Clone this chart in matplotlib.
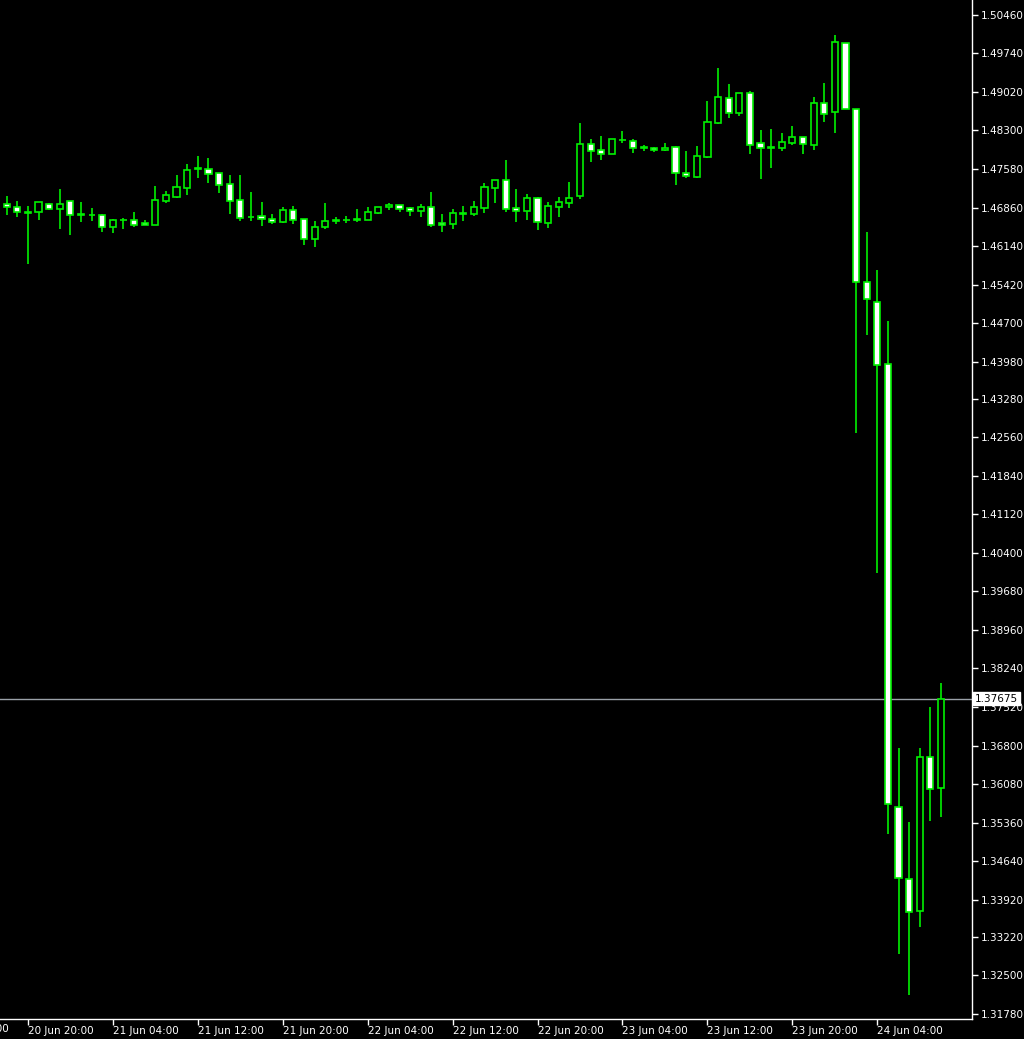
import matplotlib
matplotlib.use("Agg")
import matplotlib.pyplot as plt
import matplotlib.transforms as mtransforms
import numpy as np
import pandas as pd

# ---- data (GBPUSD hourly, 20 Jun 18:00 -> 24 Jun 10:00) ----
start_time = "2016-06-20 18:00"
opens = [
    1.46920, 1.46870, 1.46783, 1.46770, 1.46932, 1.46839, 1.46976, 1.46721, 1.46721, 1.46714,
    1.46490, 1.46627, 1.46627, 1.46565, 1.46527, 1.46989, 1.47063, 1.47232, 1.47581, 1.47587,
    1.47500, 1.47306, 1.46995, 1.46689, 1.46696, 1.46652, 1.46590, 1.46808, 1.46652, 1.46266,
    1.46502, 1.46608, 1.46627, 1.46621, 1.46633, 1.46764, 1.46864, 1.46908, 1.46845, 1.46789,
    1.46864, 1.46565, 1.46552, 1.46746, 1.46746, 1.46858, 1.47232, 1.47369, 1.46845, 1.46789,
    1.47039, 1.46577, 1.46877, 1.46939, 1.47076, 1.48042, 1.47936, 1.47861, 1.48117, 1.48111,
    1.47986, 1.47980, 1.47930, 1.47986, 1.47500, 1.47437, 1.47811, 1.48447, 1.48915, 1.48622,
    1.49008, 1.48061, 1.47974, 1.47967, 1.48073, 1.48173, 1.48036, 1.48809, 1.48647, 1.49943,
    1.48702, 1.45467, 1.45093, 1.43934, 1.35650, 1.34304, 1.33706, 1.36585, 1.36006]
highs = [
    1.47076, 1.46982, 1.46889, 1.46970, 1.46939, 1.47201, 1.46976, 1.46964, 1.46845, 1.46733,
    1.46640, 1.46658, 1.46783, 1.46633, 1.47263, 1.47176, 1.47462, 1.47674, 1.47830, 1.47786,
    1.47500, 1.47462, 1.47462, 1.47157, 1.46964, 1.46739, 1.46870, 1.46895, 1.46652, 1.46615,
    1.46939, 1.46689, 1.46702, 1.46833, 1.46870, 1.46864, 1.46945, 1.46908, 1.46876, 1.46920,
    1.47151, 1.46739, 1.46827, 1.46889, 1.46976, 1.47313, 1.47369, 1.47749, 1.47201, 1.47113,
    1.47063, 1.46958, 1.47051, 1.47338, 1.48441, 1.48142, 1.48198, 1.48136, 1.48291, 1.48142,
    1.48030, 1.47986, 1.48073, 1.48005, 1.47917, 1.48011, 1.48859, 1.49476, 1.49164, 1.49008,
    1.49039, 1.48310, 1.48335, 1.48248, 1.48379, 1.48173, 1.48927, 1.49189, 1.50087, 1.49943,
    1.48702, 1.46402, 1.45692, 1.44738, 1.36754, 1.35370, 1.36754, 1.37520, 1.37969]
lows = [
    1.46721, 1.46677, 1.45804, 1.46627, 1.46808, 1.46459, 1.46347, 1.46590, 1.46615, 1.46396,
    1.46390, 1.46459, 1.46490, 1.46527, 1.46527, 1.46939, 1.47045, 1.47095, 1.47419, 1.47313,
    1.47138, 1.46745, 1.46615, 1.46608, 1.46521, 1.46552, 1.46571, 1.46552, 1.46153, 1.46128,
    1.46465, 1.46552, 1.46565, 1.46590, 1.46627, 1.46745, 1.46808, 1.46783, 1.46702, 1.46683,
    1.46503, 1.46403, 1.46459, 1.46615, 1.46702, 1.46764, 1.46939, 1.46783, 1.46590, 1.46627,
    1.46440, 1.46484, 1.46677, 1.46858, 1.47026, 1.47706, 1.47749, 1.47861, 1.48073, 1.47874,
    1.47924, 1.47905, 1.47924, 1.47282, 1.47419, 1.47419, 1.47793, 1.48429, 1.48528, 1.48572,
    1.47855, 1.47400, 1.47600, 1.47924, 1.48030, 1.47855, 1.47942, 1.48466, 1.48248, 1.48697,
    1.42644, 1.44476, 1.40026, 1.35146, 1.32902, 1.32135, 1.33407, 1.35389, 1.35463]
closes = [
    1.46864, 1.46770, 1.46764, 1.46957, 1.46839, 1.46932, 1.46727, 1.46733, 1.46727, 1.46490,
    1.46627, 1.46633, 1.46534, 1.46534, 1.46995, 1.47088, 1.47238, 1.47562, 1.47593, 1.47493,
    1.47288, 1.46989, 1.46658, 1.46677, 1.46640, 1.46596, 1.46808, 1.46633, 1.46266, 1.46496,
    1.46608, 1.46627, 1.46633, 1.46646, 1.46777, 1.46864, 1.46908, 1.46833, 1.46789, 1.46870,
    1.46534, 1.46540, 1.46758, 1.46758, 1.46864, 1.47238, 1.47369, 1.46839, 1.46789, 1.47039,
    1.46596, 1.46889, 1.46958, 1.47045, 1.48042, 1.47924, 1.47861, 1.48136, 1.48129, 1.47974,
    1.47974, 1.47936, 1.47980, 1.47500, 1.47444, 1.47824, 1.48460, 1.48921, 1.48628, 1.49008,
    1.48036, 1.47974, 1.47986, 1.48086, 1.48173, 1.48042, 1.48809, 1.48603, 1.49962, 1.48697,
    1.45467, 1.45149, 1.43915, 1.35706, 1.34323, 1.33687, 1.36585, 1.35987, 1.37675]

ytick_labels = ["1.50460", "1.49740", "1.49020", "1.48300", "1.47580", "1.46860", "1.46140",
                "1.45420", "1.44700", "1.43980", "1.43280", "1.42560", "1.41840", "1.41120",
                "1.40400", "1.39680", "1.38960", "1.38240", "1.37520", "1.36800", "1.36080",
                "1.35360", "1.34640", "1.33920", "1.33220", "1.32500", "1.31780"]
current_price = 1.37675

# ---- styling ----
LIME = "#00f000"
FONT = 7.5

o = np.array(opens); h = np.array(highs); l = np.array(lows); c = np.array(closes)
n = len(o)
x = np.arange(n)
times = pd.date_range(start_time, periods=n, freq="h")

fig = plt.figure(figsize=(10.24, 10.39), dpi=100, facecolor="black")
ax = fig.add_axes([0.0, 20 / 1039, 972 / 1024, 1019 / 1039])
ax.set_facecolor("black")

# wicks
ax.vlines(x, l, h, color=LIME, linewidth=1.2, zorder=2)

# bodies
bull = c >= o
bottoms = np.minimum(o, c)
heights = np.maximum(np.abs(c - o), 0.00003)
faces = ["black" if b else "white" for b in bull]
ax.bar(x, heights, bottom=bottoms, width=0.58, color=faces, edgecolor=LIME,
       linewidth=1.2, zorder=3)

# current price line
ax.axhline(current_price, color="#9aa0a8", linewidth=1.0, zorder=1)

# limits
ax.set_xlim(-0.631, 90.92)
ax.set_ylim(1.31686, 1.50740)

# y axis on right
yt = [float(s) for s in ytick_labels]
ax.yaxis.tick_right()
ax.set_yticks(yt)
ax.set_yticklabels(ytick_labels)
ax.tick_params(axis="y", colors="white", labelcolor="white", labelsize=FONT,
               length=4, width=1, pad=2, direction="out")

# x axis ticks every 8 hours
tick_idx = [i for i, t in enumerate(times) if t.hour in (4, 12, 20)]
tick_lbl = [times[i].strftime("%d Jun %H:%M") for i in tick_idx]
ax.set_xticks(tick_idx)
ax.set_xticklabels(tick_lbl)
for lab in ax.get_xticklabels():
    lab.set_horizontalalignment("left")
ax.tick_params(axis="x", colors="white", labelcolor="white", labelsize=FONT,
               length=4, width=1, pad=1, direction="out")

# partially visible label before the first tick (cut at the left edge, as in the original)
first_t = times[0] - pd.Timedelta(hours=6)
ax.text(-6, -0.0045, first_t.strftime("%d Jun %H:%M"),
        transform=mtransforms.blended_transform_factory(ax.transData, ax.transAxes),
        color="white", fontsize=FONT, ha="left", va="top", clip_on=False)

for side in ["left", "top"]:
    ax.spines[side].set_visible(False)
for side in ["right", "bottom"]:
    ax.spines[side].set_color("white")
    ax.spines[side].set_linewidth(1.0)

# current price tag
ax.text(1.003, current_price, f"{current_price:.5f}",
        transform=mtransforms.blended_transform_factory(ax.transAxes, ax.transData),
        color="black", fontsize=FONT, ha="left", va="center", zorder=10,
        bbox=dict(boxstyle="square,pad=0.15", facecolor="white", edgecolor="white"),
        clip_on=False)

fig.savefig("out.png", dpi=100, facecolor="black")
